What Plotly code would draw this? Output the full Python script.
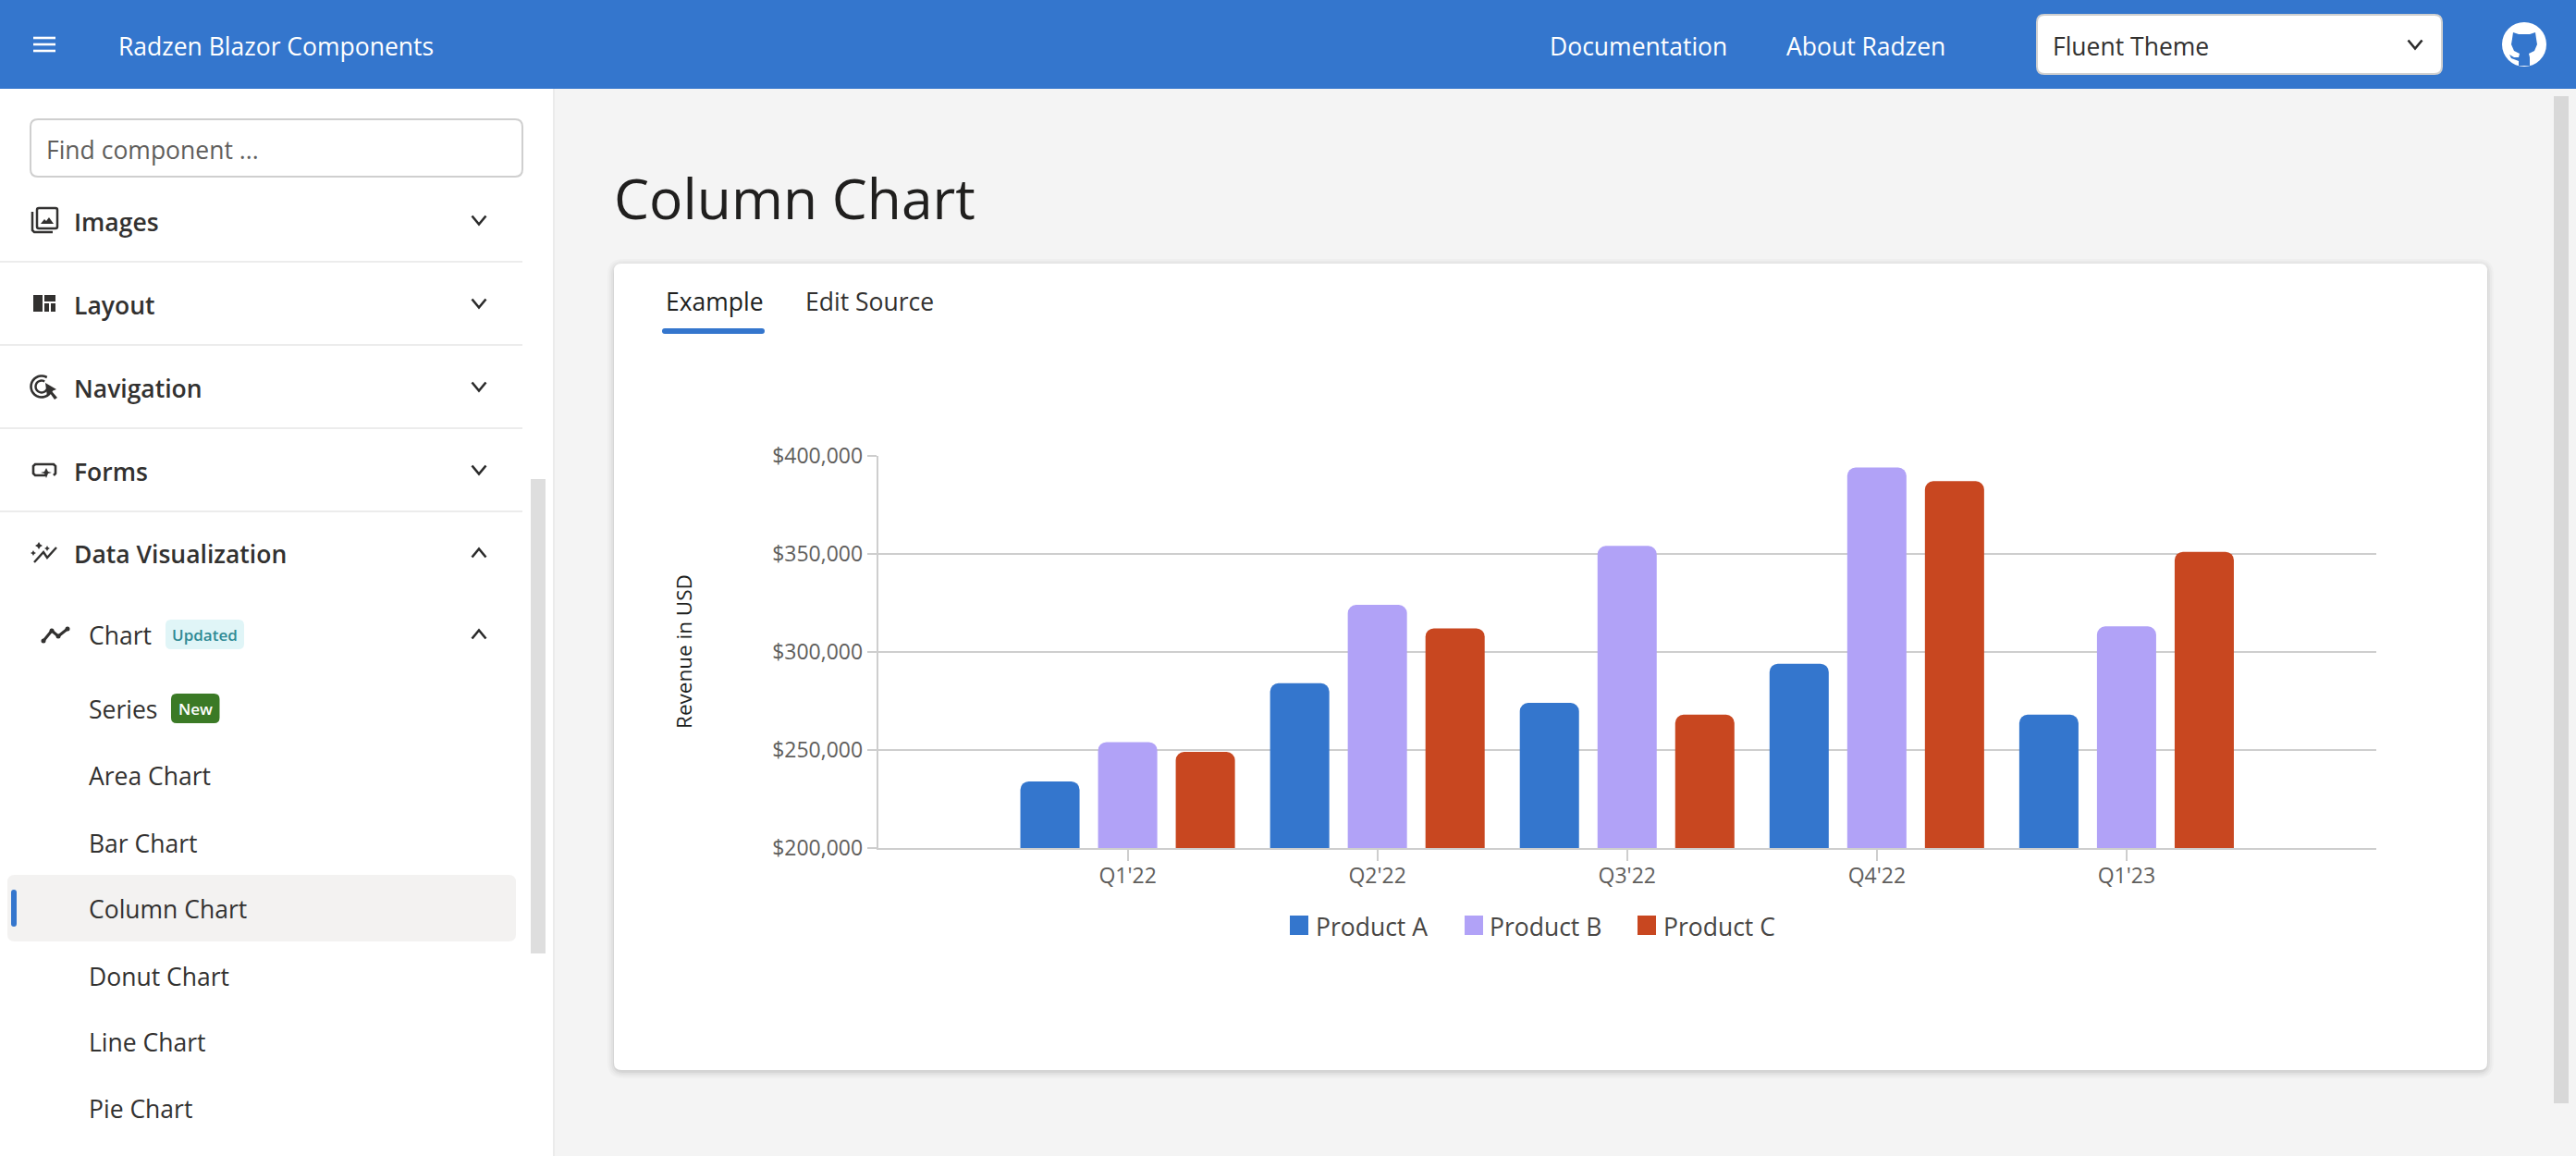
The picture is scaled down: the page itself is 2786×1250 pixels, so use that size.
import math
import plotly.graph_objects as go

W, H = 2786, 1250

quarters = ["Q1'22", "Q2'22", "Q3'22", "Q4'22", "Q1'23"]
product_a = [234000, 284000, 274000, 294000, 268000]
product_b = [254000, 324000, 354000, 394000, 313000]
product_c = [249000, 312000, 268000, 387000, 351000]

y_ticks = [200000, 250000, 300000, 350000, 400000]
y_labels = ["$200,000", "$250,000", "$300,000", "$350,000", "$400,000"]

BLUE = "#3476cd"
PURPLE = "#b1a2f7"
ORANGE = "#c84720"
GRID = "#cecece"
INK = "#323130"
FONT = "Open Sans, sans-serif"


# page furniture is placed in screen pixels, converted to paper fractions
def fx(x):
    return x / W


def fy(y):
    return 1 - y / H


def pt(x, y):
    return f"{fx(x):.5f},{fy(y):.5f}"


def poly(points, close=False):
    d = "M" + " L".join(pt(x, y) for x, y in points)
    return d + (" Z" if close else "")


def rrect_path(x0, y0, x1, y1, r):
    return (
        f"M{pt(x0 + r, y0)} L{pt(x1 - r, y0)} Q{pt(x1, y0)} {pt(x1, y0 + r)} "
        f"L{pt(x1, y1 - r)} Q{pt(x1, y1)} {pt(x1 - r, y1)} "
        f"L{pt(x0 + r, y1)} Q{pt(x0, y1)} {pt(x0, y1 - r)} "
        f"L{pt(x0, y0 + r)} Q{pt(x0, y0)} {pt(x0 + r, y0)} Z"
    )


def arc(cx, cy, r, a0, a1, n=24):
    return [(cx + r * math.cos(math.radians(a0 + (a1 - a0) * i / n)),
             cy + r * math.sin(math.radians(a0 + (a1 - a0) * i / n))) for i in range(n + 1)]


shapes = []
notes = []


def box(x0, y0, x1, y1, r=0, fill="white", line=None, lw=0):
    shapes.append(dict(type="path", path=rrect_path(x0, y0, x1, y1, r) if r else poly(
        [(x0, y0), (x1, y0), (x1, y1), (x0, y1)], True),
        xref="paper", yref="paper", fillcolor=fill, layer="below",
        line=dict(color=line or fill, width=lw)))


def stroke(points, color=INK, lw=2.5):
    shapes.append(dict(type="path", path=poly(points), xref="paper", yref="paper", layer="below",
                       line=dict(color=color, width=lw)))


def solid(points, color=INK):
    shapes.append(dict(type="path", path=poly(points, True), xref="paper", yref="paper", layer="below",
                       fillcolor=color, line=dict(color=color, width=0)))


def text(x, y, s, size=26.5, color=INK, anchor="left", weight=400, angle=0):
    notes.append(dict(text=s, x=fx(x), y=fy(y), xref="paper", yref="paper", showarrow=False,
                      xanchor=anchor, yanchor="middle", textangle=angle, borderpad=0,
                      font=dict(family=FONT, size=size, color=color, weight=weight)))


def chevron(x, y, up=False):
    d = -4.5 if up else 4.5
    stroke([(x - 7.5, y - d), (x, y + d), (x + 7.5, y - d)], "#2b2b2b", 2.6)


# header and side bar
box(0, 96, 600, H, fill="white")
box(598, 96, 600, H, fill="#ebebeb")
box(0, 0, W, 96, fill=BLUE)
for ly in [41, 48, 55]:
    box(36, ly - 1.3, 60, ly + 1.3, fill="white")
text(127, 50, "Radzen Blazor Components", color="white")
text(1675, 50, "Documentation", color="white")
text(1931, 50, "About Radzen", color="white")
box(2203, 16, 2641, 80, 8, "white", "#cfcfcf", 2)
text(2219, 50, "Fluent Theme")
chevron(2612, 48)

# github mark
shapes.append(dict(type="circle", x0=fx(2706), x1=fx(2754), y0=fy(72), y1=fy(24), xref="paper", yref="paper",
                   fillcolor="white", line=dict(width=0), layer="below"))
solid([(2718, 35), (2724, 37), (2736, 37), (2742, 35), (2743, 42), (2744, 48), (2741, 55), (2735, 58),
       (2736, 62), (2736, 71), (2724, 71), (2724, 66), (2716, 63), (2714, 59), (2719, 62), (2724, 62),
       (2725, 58), (2719, 55), (2716, 48), (2717, 42)], BLUE)

# search box
box(33, 129, 565, 191, 8, "white", "#cfcfcf", 2)
text(49, 162, "Find component ...", color="#605e5c")

# menu entries
for y, s in [(240, "Images"), (330, "Layout"), (420, "Navigation"), (510, "Forms"), (599, "Data Visualization")]:
    text(79, y, s, weight=600)
for y in [283, 373, 463, 553]:
    box(0, y - 1, 565, y + 1, fill="#ececec")
for y in [238, 328, 418, 508]:
    chevron(518, y)
chevron(518, 598, True)
chevron(518, 686, True)

box(8, 946, 558, 1018, 8, "#f3f2f1")
box(12, 962, 18, 1002, 3, BLUE)
text(95, 687, "Chart")
box(179, 670, 264, 702, 6, "#e0f5f7")
text(221.5, 686, "Updated", 17, "#2f8a95", "center", 600)
text(95, 767, "Series")
box(185, 750, 237.5, 782, 6, "#3b7a26")
text(211, 766, "New", 17, "white", "center", 600)
for y, s in [(839, "Area Chart"), (912, "Bar Chart"), (983, "Column Chart"), (1056, "Donut Chart"),
             (1127, "Line Chart"), (1199, "Pie Chart")]:
    text(95, y, s)

# menu icons
shapes.append(dict(type="path", path=rrect_path(40, 225, 62, 247, 2), xref="paper", yref="paper", layer="below",
                   line=dict(color=INK, width=2.5)))
stroke([(35, 229), (35, 249), (37, 251), (57, 251)])
solid([(44, 242), (48, 237), (50, 239), (53, 235), (58, 242)])
box(36, 319, 46, 337, fill=INK)
box(48, 319, 60, 326, fill=INK)
box(48, 328, 53, 337, fill=INK)
box(55, 328, 60, 337, fill=INK)
stroke(arc(45, 418, 11.5, 10, 300), INK, 2.6)
stroke(arc(45, 418, 6.5, 20, 300, 16), INK, 2.4)
solid([(49, 414), (61, 421), (56, 423), (62, 430), (59, 432), (54, 425), (51, 429)])
stroke([(49, 514), (38, 514), (36, 512), (36, 504), (38, 502), (58, 502), (60, 504), (60, 512), (58, 514)], INK, 2.6)
solid([(50, 506), (52, 510), (56, 511), (52, 512), (50, 517), (48, 512), (44, 511), (48, 510)])
stroke([(37, 608), (47, 597), (51, 603), (61, 592)], INK, 2.4)
for sx, sy, sr in [(42, 590, 4), (36, 598, 3), (51, 593, 3)]:
    solid([(sx, sy - sr), (sx + sr * 0.35, sy - sr * 0.35), (sx + sr, sy), (sx + sr * 0.35, sy + sr * 0.35),
           (sx, sy + sr), (sx - sr * 0.35, sy + sr * 0.35), (sx - sr, sy), (sx - sr * 0.35, sy - sr * 0.35)])
stroke([(47, 693), (56, 682), (63, 688), (73, 680)], INK, 3)
for dx, dy in [(47, 693), (56, 682), (63, 688), (73, 680)]:
    shapes.append(dict(type="circle", x0=fx(dx - 2.5), x1=fx(dx + 2.5), y0=fy(dy + 2.5), y1=fy(dy - 2.5),
                       xref="paper", yref="paper", fillcolor=INK, line=dict(width=0), layer="below"))

# scrollbars
box(574, 518, 590, 1031, fill="#dedede")
box(2762, 104, 2778, 1193, fill="#d8d8d8")

# heading and card
text(663, 213, "Column Chart", 60.5, "#201f1e")
for i, c in [(7, "rgba(0,0,0,0.02)"), (5, "rgba(0,0,0,0.025)"), (3, "rgba(0,0,0,0.03)"), (1, "rgba(0,0,0,0.05)")]:
    box(664 - i, 285 - i + 2, 2690 + i, 1157 + i + 2, 10 + i, c)
box(664, 285, 2690, 1157, 8, "white")
text(719, 326, "Example", color="#201f1e")
text(870, 326, "Edit Source")
box(716, 355, 827, 361, 3, BLUE)

# legend keys and labels drawn by hand so the spacing follows the page
for kx, tx, c, s in [(1395, 1422, BLUE, "Product A"), (1584, 1610, PURPLE, "Product B"), (1771, 1798, ORANGE, "Product C")]:
    box(kx, 990, kx + 20, 1011, fill=c)
    text(tx, 1002, s, color="#484644")

text(740, 705, "Revenue in USD", 22.5, "#201f1e", "center", angle=-90)

fig = go.Figure()
for name, vals, col in [("Product A", product_a, BLUE), ("Product B", product_b, PURPLE), ("Product C", product_c, ORANGE)]:
    fig.add_trace(go.Bar(x=quarters, y=vals, name=name, marker=dict(color=col, cornerradius=9, line=dict(width=0))))

fig.update_layout(
    width=W,
    height=H,
    autosize=False,
    margin=dict(l=0, r=0, t=0, b=0, pad=0, autoexpand=False),
    paper_bgcolor="#f4f4f4",
    plot_bgcolor="rgba(0,0,0,0)",
    barmode="group",
    bargap=0.0667,
    bargroupgap=0.238,
    showlegend=False,
    shapes=shapes,
    annotations=notes,
    font=dict(family=FONT),
    xaxis=dict(domain=[fx(949.5), fx(2570)], range=[-1, 5], type="category", categoryorder="array",
               categoryarray=quarters, tickfont=dict(size=23, color="#605e5c"), ticks="outside",
               ticklen=12, tickwidth=1.5, tickcolor=GRID, ticklabelstandoff=-4, showgrid=False, showline=True,
               linecolor=GRID, linewidth=2, zeroline=False),
    yaxis=dict(domain=[fy(917), fy(492.8)], range=[200000, 400000], tickvals=y_ticks, ticktext=y_labels,
               tickfont=dict(size=23, color="#605e5c"), ticks="outside", ticklen=10, tickwidth=2, tickcolor=GRID,
               showgrid=True, gridcolor=GRID, gridwidth=2, showline=True, linecolor=GRID, linewidth=1.5,
               zeroline=False),
)

fig.write_html("out.html", config=dict(displayModeBar=False),
               post_script="document.body.style.margin='0';document.body.style.overflow='hidden';")
